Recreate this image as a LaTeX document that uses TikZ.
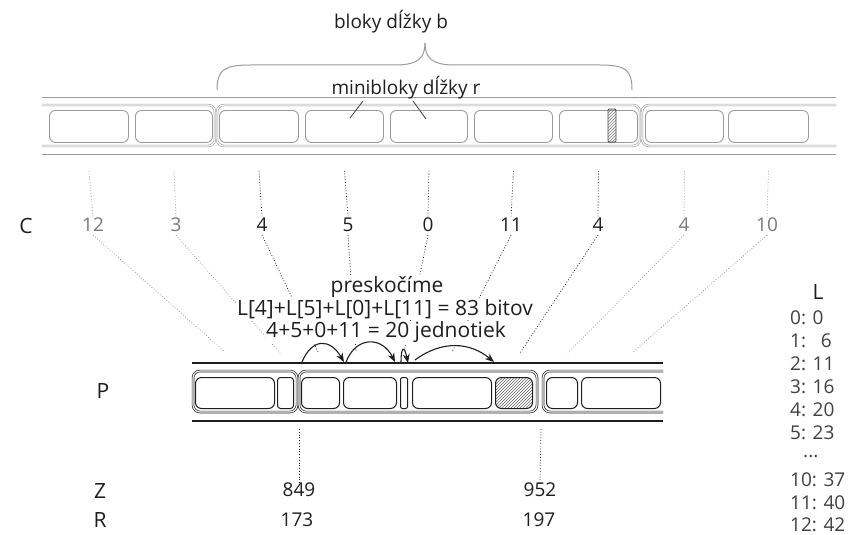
\documentclass[tikz,border=0pt]{standalone}
\usepackage{fontspec}
\setmainfont{Open Sans}
\usetikzlibrary{patterns,arrows.meta}
\definecolor{ink}{HTML}{1E1E1E}
\definecolor{soft}{HTML}{9A9A9A}
\definecolor{numgray}{HTML}{7A7A7A}
\begin{document}
\begin{tikzpicture}[x=1pt,y=-1pt,
  topline/.style={draw=soft, line width=1pt},
  topblock/.style={draw=soft, line width=0.6pt, double=white, double distance=1.1pt, rounded corners=7pt},
  topmini/.style={draw=soft, line width=0.9pt, rounded corners=6pt, inner sep=0pt, anchor=north west, minimum height=32pt},
  pline/.style={draw=ink, line width=1.3pt},
  pblock/.style={draw=ink, line width=0.7pt, double=white, double distance=1.1pt, rounded corners=7pt},
  pmini/.style={draw=ink, line width=1pt, rounded corners=6pt, inner sep=0pt, anchor=north west, minimum height=31pt},
  lbl/.style={font=\fontsize{19}{22}\selectfont, text=ink, inner sep=1pt},
  biglbl/.style={font=\fontsize{21}{24}\selectfont, text=ink, inner sep=1pt},
  numdark/.style={font=\fontsize{19}{22}\selectfont, text=ink, inner sep=2pt},
  numlight/.style={font=\fontsize{19}{22}\selectfont, text=numgray, inner sep=2pt},
  listlbl/.style={font=\fontsize{19}{22}\selectfont, text=ink!85, anchor=west, inner sep=0pt},
  dotdark/.style={dotted, line width=0.8pt, draw=ink},
  dotlight/.style={dotted, line width=0.8pt, draw=soft},
  hop/.style={-{Stealth[length=9pt,width=7pt]}, line width=1.1pt, draw=ink},
  masklbl/.style={fill=white, font=\fontsize{21}{24}\selectfont, text=ink, inner sep=1pt}
]
\useasboundingbox (0,0) rectangle (854,535);

% ---------- top bar ----------
\draw[topline] (42,97) -- (836,97);
\draw[topline] (42,154) -- (836,154);
\draw[topblock] (42,105) -- (215,105) -- (215,146) -- (42,146);
\draw[topblock] (217,105) rectangle (640,146);
\draw[topblock] (836,105) -- (642,105) -- (642,146) -- (836,146);

\node[topmini, minimum width=79pt] (m1) at (49,110) {};
\node[topmini, minimum width=77pt] (m2) at (135,110) {};
\node[topmini, minimum width=79pt] (m3) at (219,110) {};
\node[topmini, minimum width=78pt] (m4) at (305,110) {};
\node[topmini, minimum width=77pt] (m5) at (390,110) {};
\node[topmini, minimum width=78pt] (m6) at (474,110) {};
\node[topmini, minimum width=78pt] (m7) at (559,110) {};
\node[topmini, minimum width=78pt] (m8) at (645,110) {};
\node[topmini, minimum width=80pt] (m9) at (728,110) {};
\draw[draw=ink!80, line width=0.8pt, rounded corners=1pt, pattern=north east lines, pattern color=ink!60] (608,109) rectangle (616,142);

% brace and labels
\draw[draw=soft, line width=1pt] (217,90) .. controls (217,70) and (224,65) .. (250,65) -- (395,65) .. controls (418,65) and (425,58) .. (425,43);
\draw[draw=soft, line width=1pt] (425,43) .. controls (425,58) and (432,65) .. (455,65) -- (600,65) .. controls (626,65) and (632,70) .. (632,90);
\node[lbl] (bloky) at (391,22) {bloky dĺžky b};
\node[lbl] (mini) at (406,88) {minibloky dĺžky r};
\draw[draw=ink!85, line width=0.8pt] (363,101) -- (350,118);
\draw[draw=ink!85, line width=0.8pt] (413,101) -- (426,119);

% ---------- C row ----------
\node[biglbl] (C) at (26,226) {C};
\node[numlight] (c1) at (93,225) {12};
\node[numlight] (c2) at (176,225) {3};
\node[numdark]  (c3) at (262,225) {4};
\node[numdark]  (c4) at (348,225) {5};
\node[numdark]  (c5) at (428,225) {0};
\node[numdark]  (c6) at (511,225) {11};
\node[numdark]  (c7) at (598,225) {4};
\node[numlight] (c8) at (684,225) {4};
\node[numlight] (c9) at (767,225) {10};

\draw[dotlight] ([yshift=-28pt]m1.south) -- ([yshift=-1pt]c1.north);
\draw[dotlight] ([yshift=-28pt]m2.south) -- ([yshift=-1pt]c2.north);
\draw[dotdark]  ([yshift=-28pt]m3.south) -- ([yshift=-1pt]c3.north);
\draw[dotdark]  ([yshift=-28pt]m4.south) -- ([yshift=-1pt]c4.north);
\draw[dotdark]  ([yshift=-28pt]m5.south) -- ([yshift=-1pt]c5.north);
\draw[dotdark]  ([yshift=-28pt]m6.south) -- ([yshift=-1pt]c6.north);
\draw[dotdark]  ([yshift=-28pt]m7.south) -- ([yshift=-1pt]c7.north);
\draw[dotlight] ([yshift=-28pt]m8.south) -- ([yshift=-1pt]c8.north);
\draw[dotlight] ([yshift=-28pt]m9.south) -- ([yshift=-1pt]c9.north);

\coordinate (q1) at (225,352);
\coordinate (q2) at (280,353);
\coordinate (q3) at (318,352);
\coordinate (q4) at (356,352);
\coordinate (q5) at (404,352);
\coordinate (q6) at (452,352);
\coordinate (q7) at (520,353);
\coordinate (q8) at (568,353);
\coordinate (q9) at (632,353);
\draw[dotlight] ([yshift=-1pt]c1.south) -- (q1);
\draw[dotlight] ([yshift=-1pt]c2.south) -- (q2);
\draw[dotdark]  ([yshift=-1pt]c3.south) -- (q3);
\draw[dotdark]  ([yshift=-1pt]c4.south) -- (q4);
\draw[dotdark]  ([yshift=-1pt]c5.south) -- (q5);
\draw[dotdark]  ([yshift=-1pt]c6.south) -- (q6);
\draw[dotdark]  ([yshift=-1pt]c7.south) -- (q7);
\draw[dotlight] ([yshift=-1pt]c8.south) -- (q8);
\draw[dotlight] ([yshift=-1pt]c9.south) -- (q9);

% middle texts
\node[masklbl] (skip) at (387,287) {preskočíme};
\node[masklbl] (bits) at (385,309) {L[4]+L[5]+L[0]+L[11] = 83 bitov};
\node[masklbl] (ones) at (386,332) {4+5+0+11 = 20 jednotiek};

% ---------- P row ----------
\node[biglbl] (P) at (103,391) {P};
\draw[pline] (192,363) -- (663,363);
\draw[pline] (192,421) -- (663,421);
\draw[pblock] (193,371) rectangle (297,412);
\draw[pblock] (299,371) rectangle (537,412);
\draw[pblock] (663,371) -- (543,371) -- (543,412) -- (663,412);

\node[pmini, minimum width=79pt] (p1) at (195,377) {};
\node[pmini, minimum width=16pt, rounded corners=3pt] (p2) at (277,377) {};
\node[pmini, minimum width=38pt] (p3) at (301,377) {};
\node[pmini, minimum width=53pt] (p4) at (343,377) {};
\node[pmini, minimum width=7pt, rounded corners=2pt] (p5) at (400,377) {};
\node[pmini, minimum width=79pt] (p6) at (412,377) {};
\node[pmini, minimum width=37pt, pattern=north east lines, pattern color=ink!70] (p7) at (495,377) {};
\node[pmini, minimum width=31pt] (p8) at (546,377) {};
\node[pmini, minimum width=79pt] (p9) at (581,377) {};

% skip arrows
\coordinate (h1) at (302,362);
\coordinate (h2) at (344,362);
\coordinate (h3) at (346,362);
\coordinate (h4) at (395,362);
\coordinate (h5) at (401,362);
\coordinate (h6) at (408,363);
\coordinate (h7) at (415,360);
\coordinate (h8) at (494,362);
\draw[hop] (h1) .. controls (312,338) and (330,338) .. (h2);
\draw[hop] (h3) .. controls (356,336) and (382,336) .. (h4);
\draw[hop] (h5) .. controls (401,348) and (404,344) .. (h6);
\draw[hop] (h7) .. controls (442,340) and (470,342) .. (h8);

% ---------- Z / R rows ----------
\node[biglbl] (Z) at (100,491) {Z};
\node[biglbl] (R) at (100,520) {R};
\node[numdark] (z1) at (299,490) {849};
\node[numdark] (r1) at (297,520) {173};
\node[numdark] (z2) at (540,490) {952};
\node[numdark] (r2) at (539,520) {197};
\coordinate (d1) at (299,429);
\coordinate (d2) at (541,429);
\draw[dotdark] (d1) -- ([yshift=-3pt]z1.north);
\draw[dotdark] (d2) -- ([yshift=-3pt]z2.north);

% ---------- L table ----------
\node[biglbl] (L) at (818,292) {L};
\node[listlbl] (l0) at (790,318) {0: 0};
\node[listlbl] (l1) at (790,341) {1: \ \,6};
\node[listlbl] (l2) at (790,364) {2: 11};
\node[listlbl] (l3) at (790,387) {3: 16};
\node[listlbl] (l4) at (790,410) {4: 20};
\node[listlbl] (l5) at (790,433) {5: 23};
\node[listlbl] (ldots) at (803,457) {...};
\node[listlbl] (l10) at (790,480) {10: 37};
\node[listlbl] (l11) at (790,503) {11: 40};
\node[listlbl] (l12) at (790,525) {12: 42};
\end{tikzpicture}
\end{document}
